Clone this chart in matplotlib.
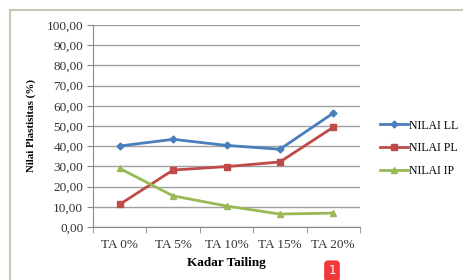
import matplotlib.pyplot as plt
import numpy as np
from matplotlib.patches import Rectangle

plt.rcParams['font.family'] = ['Liberation Serif', 'DejaVu Serif']

# Datos
kategori = ['TA 0%', 'TA 5%', 'TA 10%', 'TA 15%', 'TA 20%']
nilai_ll = [40.1, 43.4, 40.4, 38.5, 56.4]
nilai_pl = [11.2, 28.2, 29.9, 32.2, 49.4]
nilai_ip = [29.0, 15.4, 10.4, 6.4, 6.9]

W, H = 464, 280
fig = plt.figure(figsize=(W / 100, H / 100), dpi=100)

# marco exterior
fig.patches.append(Rectangle((10 / W, -0.1), 1.1, (H - 10) / H + 0.1,
                             transform=fig.transFigure, fill=False,
                             edgecolor='#c8c8b0', linewidth=1.5))

ax = fig.add_axes([93 / W, (H - 227) / H, (360 - 93) / W, (227 - 25) / H])
x = np.arange(len(kategori))

ax.plot(x, nilai_ll, color='#4a7ebb', linewidth=2, marker='D', markersize=3.5, label='NILAI LL')
ax.plot(x, nilai_pl, color='#be4b48', linewidth=2, marker='s', markersize=5, label='NILAI PL')
ax.plot(x, nilai_ip, color='#98b954', linewidth=2, marker='^', markersize=5, label='NILAI IP')

ax.set_xlim(-0.5, len(kategori) - 0.5)
ax.set_ylim(0, 100)
ax.set_yticks(np.arange(0, 101, 10))
ax.set_yticklabels([f'{v:.2f}'.replace('.', ',') for v in np.arange(0, 101, 10)])
ax.set_xticks(x)
ax.set_xticklabels(kategori)
ax.set_xticks(np.arange(-0.5, len(kategori)), minor=True)
ax.tick_params(axis='x', which='major', length=0, labelsize=9.5, pad=9, colors='#333333')
ax.tick_params(axis='x', which='minor', length=4, color='#888888')
ax.tick_params(axis='y', length=4, labelsize=9.5, color='#888888', labelcolor='#333333', pad=3)
ax.grid(axis='y', color='#a0a0a0', linewidth=1)
ax.set_axisbelow(True)
for s in ['top', 'right']:
    ax.spines[s].set_visible(False)
ax.spines['left'].set_color('#888888')
ax.spines['bottom'].set_color('#888888')

ax.set_xlabel('Kadar Tailing', fontsize=9.5, fontweight='bold', labelpad=4)
ax.set_ylabel('Nilai Plastisitas (%)', fontsize=7.8, fontweight='bold', labelpad=8)

ax.legend(loc='center left', bbox_to_anchor=(1.075, 0.39), frameon=False, fontsize=8.5,
          handlelength=2.4, handletextpad=0.05, labelspacing=0.9, borderaxespad=0,
          borderpad=0)

# etiqueta roja
fig.text(332 / W, (H - 271) / H, '1', color='white', fontsize=8.5, ha='center', va='center',
         family='DejaVu Sans',
         bbox=dict(boxstyle='round,pad=0.35', facecolor='#f03a3a', edgecolor='none'))

plt.savefig('out.png', dpi=100)
plt.close()
